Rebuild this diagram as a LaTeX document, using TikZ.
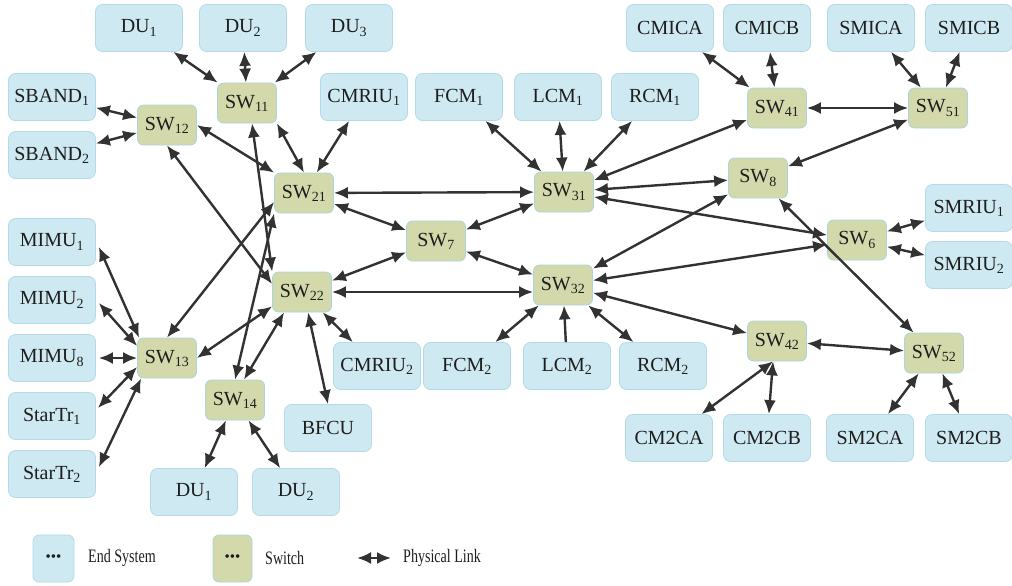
\documentclass[tikz,border=0pt]{standalone}
\usepackage{fontspec}
\setmainfont{Liberation Serif}
\usetikzlibrary{arrows.meta,calc}
\definecolor{esfill}{RGB}{206,233,241}
\definecolor{esdraw}{RGB}{178,219,231}
\definecolor{swfill}{RGB}{212,217,172}
\definecolor{swdraw}{RGB}{168,214,220}
\definecolor{linkc}{RGB}{50,50,50}
\definecolor{txtc}{RGB}{30,30,30}
\begin{document}
\begin{tikzpicture}[x=1pt,y=-1pt,
  es/.style={draw=esdraw,fill=esfill,rounded corners=7pt,minimum width=87pt,minimum height=47pt,inner sep=0pt,line width=0.8pt,text=txtc,font=\fontsize{20}{21}\selectfont},
  sw/.style={draw=swdraw,fill=swfill,rounded corners=6pt,minimum width=59pt,minimum height=40pt,inner sep=0pt,line width=0.8pt,text=txtc,font=\fontsize{20}{21}\selectfont},
  tip/.tip={Latex[length=14pt,width=12pt]},
  link/.style={draw=linkc,line width=2.4pt,tip-tip},
  onelink/.style={draw=linkc,line width=2.4pt,-tip},
  legtext/.style={anchor=west,inner sep=0pt,text=txtc,font=\fontsize{19}{20}\selectfont},
  legbox/.style={rounded corners=6pt,minimum width=41pt,minimum height=47pt,inner sep=0pt,line width=0.8pt,text=txtc,font=\fontsize{15}{15}\selectfont}
]
\useasboundingbox (0,0) rectangle (1012,586);

% ---------- end systems ----------
\node[es] (du1t) at (139,28) {DU\textsubscript{1}};
\node[es] (du2t) at (243,28) {DU\textsubscript{2}};
\node[es] (du3t) at (349,28) {DU\textsubscript{3}};
\node[es] (sband1) at (52,97) {SBAND\textsubscript{1}};
\node[es] (sband2) at (52,155) {SBAND\textsubscript{2}};
\node[es] (cmriu1) at (364,97) {CMRIU\textsubscript{1}};
\node[es] (fcm1) at (459,97) {FCM\textsubscript{1}};
\node[es] (lcm1) at (558,97) {LCM\textsubscript{1}};
\node[es] (rcm1) at (655,97) {RCM\textsubscript{1}};
\node[es] (cmica) at (670,28) {CMICA};
\node[es] (cmicb) at (767,28) {CMICB};
\node[es] (smica) at (871,28) {SMICA};
\node[es] (smicb) at (969,28) {SMICB};
\node[es] (mimu1) at (52,242) {MIMU\textsubscript{1}};
\node[es] (mimu2) at (52,300) {MIMU\textsubscript{2}};
\node[es] (mimu8) at (52,358) {MIMU\textsubscript{8}};
\node[es] (startr1) at (52,416) {StarTr\textsubscript{1}};
\node[es] (startr2) at (52,474) {StarTr\textsubscript{2}};
\node[es] (cmriu2) at (377,366) {CMRIU\textsubscript{2}};
\node[es] (fcm2) at (467,366) {FCM\textsubscript{2}};
\node[es] (lcm2) at (567,366) {LCM\textsubscript{2}};
\node[es] (rcm2) at (663,366) {RCM\textsubscript{2}};
\node[es] (bfcu) at (328,428) {BFCU};
\node[es] (du1b) at (194,492) {DU\textsubscript{1}};
\node[es] (du2b) at (296,492) {DU\textsubscript{2}};
\node[es] (smriu1) at (969,208) {SMRIU\textsubscript{1}};
\node[es] (smriu2) at (969,265) {SMRIU\textsubscript{2}};
\node[es] (cm2ca) at (669,438) {CM2CA};
\node[es] (cm2cb) at (767,438) {CM2CB};
\node[es] (sm2ca) at (870,438) {SM2CA};
\node[es] (sm2cb) at (969,438) {SM2CB};

% ---------- switches ----------
\node[sw] (sw11) at (247,103) {SW\textsubscript{11}};
\node[sw] (sw12) at (167,125) {SW\textsubscript{12}};
\node[sw] (sw21) at (304,193) {SW\textsubscript{21}};
\node[sw] (sw22) at (302,292) {SW\textsubscript{22}};
\node[sw] (sw13) at (167,358) {SW\textsubscript{13}};
\node[sw] (sw14) at (235,400) {SW\textsubscript{14}};
\node[sw] (sw7) at (436,241) {SW\textsubscript{7}};
\node[sw] (sw31) at (564,192) {SW\textsubscript{31}};
\node[sw] (sw32) at (563,285) {SW\textsubscript{32}};
\node[sw] (sw41) at (777,108) {SW\textsubscript{41}};
\node[sw] (sw51) at (938,108) {SW\textsubscript{51}};
\node[sw] (sw8) at (758,178) {SW\textsubscript{8}};
\node[sw] (sw6) at (857,240) {SW\textsubscript{6}};
\node[sw] (sw42) at (777,341) {SW\textsubscript{42}};
\node[sw] (sw52) at (934,353) {SW\textsubscript{52}};

% ---------- links ----------
\draw[link] (du1t) -- (sw11);
\draw[link] (du2t) -- (sw11);
\draw[link] (du3t) -- (sw11);
\draw[link] (sband1) -- (sw12);
\draw[link] (sband2) -- (sw12);
\draw[link] (sw12.east) -- (sw21.north west);
\draw[link] (sw12.south) -- ($(sw22.west)+(0,-8)$);
\draw[link] (sw11.south east) -- (sw21.north);
\draw[link] ($(sw11.south)+(5,0)$) -- (sw22.north west);
\draw[link] (sw21.south west) -- (sw14.north);
\draw[link] (sw13.north) -- ($(sw21.west)+(0,9)$);
\draw[link] (sw13.east) -- ($(sw22.south west)+(0,-6)$);
\draw[link] ($(sw22.south west)+(12,0)$) -- ($(sw14.north)+(9,0)$);
\draw[link] ($(sw22.south)+(6,0)$) -- (bfcu.north);
\draw[link] (sw22) -- (cmriu2);
\draw[link] (sw21) -- (cmriu1);
\draw[link] (sw21) -- (sw31);
\draw[link] (sw22.east) -- (sw22.east -| sw32.west);
\draw[link] (sw21) -- (sw7);
\draw[link] (sw22) -- (sw7);
\draw[link] (sw7) -- (sw31);
\draw[link] (sw7) -- (sw32);
\draw[link] (fcm1) -- (sw31);
\draw[link] (lcm1) -- (sw31);
\draw[link] (rcm1) -- (sw31);
\draw[link] (sw31) -- (sw41);
\draw[link] (sw31) -- (sw8);
\draw[link] (sw31) -- (sw6);
\draw[link] (sw32) -- (sw8);
\draw[link] (sw32) -- (sw6);
\draw[link] (sw32) -- (sw42);
\draw[link] (fcm2) -- (sw32);
\draw[onelink] (lcm2) -- (sw32);
\draw[link] (rcm2) -- (sw32);
\draw[link] (cmica) -- (sw41);
\draw[link] (cmicb) -- (sw41);
\draw[link] (sw41) -- (sw51);
\draw[link] (smica) -- (sw51);
\draw[link] (smicb) -- (sw51);
\draw[link] (sw51) -- (sw8);
\draw[link] (sw8) -- (sw52);
\draw[link] (sw6) -- (smriu1);
\draw[link] (sw6) -- (smriu2);
\draw[link] (sw42) -- (sw52);
\draw[link] ($(sw42.south)+(-4,0)$) -- (cm2ca);
\draw[link] ($(sw42.south)+(-4,0)$) -- (cm2cb);
\draw[link] (sw52) -- (sm2ca);
\draw[link] (sw52) -- (sm2cb);
\draw[link] ($(mimu1.east)+(3,5)$) -- ($(sw13.north west)+(2,0)$);
\draw[link] ($(mimu2.east)+(3,3)$) -- ($(sw13.west)+(0,-12)$);
\draw[link] ($(mimu8.east)+(3,0)$) -- (sw13.west);
\draw[link] ($(startr1.east)+(2,-8)$) -- ($(sw13.west)+(0,9)$);
\draw[link] ($(startr2.east)+(3,-7)$) -- ($(sw13.south west)+(4,0)$);
\draw[link] (sw14) -- (du1b);
\draw[link] (sw14) -- (du2b);

% ---------- legend ----------
\node[legbox,draw=esdraw,fill=esfill] (lges) at (53.5,558.5) {\textbullet\textbullet\textbullet};
\node[legtext] (lgest) at (88,558) {\scalebox{0.74}[1]{End System}};
\node[legbox,draw=swdraw,fill=swfill,minimum width=39pt] (lgsw) at (232.5,558.5) {\textbullet\textbullet\textbullet};
\node[legtext] (lgswt) at (265,558) {\scalebox{0.74}[1]{Switch}};
\coordinate (lga) at (357,558);
\coordinate (lgb) at (391,558);
\draw[link] (lga) -- (lgb);
\node[legtext] (lglt) at (403,558) {\scalebox{0.74}[1]{Physical Link}};
\end{tikzpicture}
\end{document}
